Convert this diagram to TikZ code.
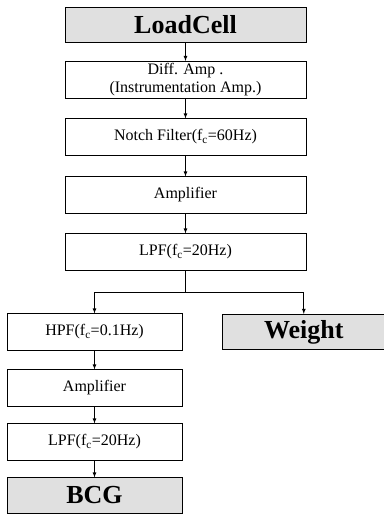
\documentclass[tikz,border=0pt]{standalone}
\usepackage{fontspec}
\setmainfont{Liberation Serif}
\usetikzlibrary{positioning,arrows}
\tikzstyle{bigbox}=[rectangle, draw=black, fill=black!12, thick, minimum height=35.2pt, inner sep=2pt, text centered, font=\bfseries\fontsize{26}{28}\selectfont]
\tikzstyle{stagebox}=[rectangle, draw=black, thick, minimum height=36.2pt, inner sep=2pt, text centered, font=\fontsize{16}{18}\selectfont]
\tikzstyle{line}=[-, thick]
\tikzstyle{arrline}=[-latex, thick]

\begin{document}
\begin{tikzpicture}[node distance=19pt]

    \useasboundingbox (0,0) rectangle (383pt,-514pt);

    \node (load) [bigbox, minimum width=241pt] at (185.5pt,-25pt) {LoadCell};
    \node (diff) [stagebox, minimum width=241pt, below=18pt of load, align=center] {Diff. Amp .\\ (Instrumentation Amp.)};
    \node (notch) [stagebox, minimum width=241pt, below=20pt of diff] {Notch Filter(f\textsubscript{c}=60Hz)};
    \node (amp) [stagebox, minimum width=241pt, below=21pt of notch] {Amplifier};
    \node (lpf) [stagebox, minimum width=241pt, below=20pt of amp] {LPF(f\textsubscript{c}=20Hz)};

% BCG branch
    \node (hpf) [stagebox, minimum width=175pt, below=43pt of lpf.south, xshift=-91pt] {HPF(f\textsubscript{c}=0.1Hz)};
    \node (amptwo) [stagebox, minimum width=175pt, below=19pt of hpf] {Amplifier};
    \node (lpftwo) [stagebox, minimum width=175pt, below=17pt of amptwo] {LPF(f\textsubscript{c}=20Hz)};
    \node (bcg) [bigbox, minimum width=175pt, below=17pt of lpftwo] {BCG};
%%%% weight branch
    \node (weight) [bigbox, minimum width=162pt, right=40pt of hpf] {Weight};

   \draw[arrline] (load) -- (diff);
   \draw[arrline] (diff) -- (notch);
   \draw[arrline] (notch) -- (amp);
   \draw[arrline] (amp) -- (lpf);

%split below the LPF
   \draw[line] (lpf.south) -- ++(0,-22pt) coordinate (split);
   \draw[arrline] (split) -| (hpf.north);
   \draw[arrline] (split) -| (weight.north);

   \draw[arrline] (hpf) -- (amptwo);
   \draw[arrline] (amptwo) -- (lpftwo);
   \draw[arrline] (lpftwo) -- (bcg);

\end{tikzpicture}
\end{document}
